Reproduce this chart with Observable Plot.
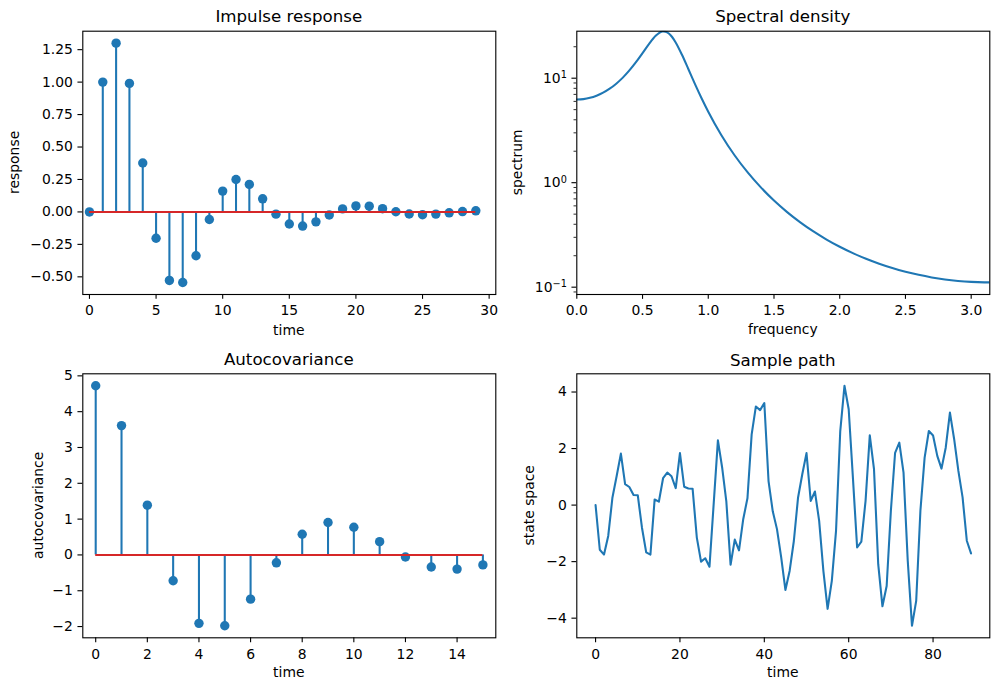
<!DOCTYPE html>
<html><head><meta charset="utf-8">
<script src="https://cdn.jsdelivr.net/npm/d3@7"></script>
<script src="https://cdn.jsdelivr.net/npm/@observablehq/plot@0.6"></script>
<style>
body{margin:0;background:#fff;}
#fig{position:relative;width:998px;height:690px;background:#fff;font-family:"DejaVu Sans",sans-serif;overflow:hidden;}
#fig svg{position:absolute;max-width:none;overflow:visible;}
</style></head><body><div id="fig"></div>
<script>
// ---- data ----
const impulseTime = [0,1,2,3,4,5,6,7,8,9,10,11,12,13,14,15,16,17,18,19,20,21,22,23,24,25,26,27,28,29];
const impulseValues = [0,1,1.3,0.99,0.377,-0.2029,-0.5277,-0.5439,-0.3378,-0.0583,0.1606,0.2496,0.2121,0.1010,-0.0172,-0.0930,-0.1089,-0.0765,-0.0232,0.0234,0.0466,0.0442,0.0249,0.0014,-0.0156,-0.0213,-0.0167,-0.0068,0.0028,0.0085];

const spectralFreq = [0,0.05,0.1,0.15,0.2,0.25,0.3,0.35,0.4,0.45,0.5,0.55,0.6,0.625,0.65,0.66,0.675,0.7,0.725,0.75,0.8,0.85,0.9,0.95,1.0,1.1,1.2,1.3,1.4,1.5,1.6,1.7,1.8,1.9,2.0,2.1,2.2,2.3,2.4,2.5,2.6,2.7,2.8,2.9,3.0,3.1,3.1416];
const spectralValues = [6.25,6.308,6.486,6.798,7.268,7.935,8.859,10.126,11.863,14.229,17.388,21.333,25.435,27.031,27.926,28.027,27.868,26.774,24.791,22.238,16.757,12.122,8.741,6.396,4.779,2.847,1.831,1.2531,0.9012,0.6751,0.5232,0.4174,0.3414,0.2856,0.2436,0.2116,0.1869,0.1676,0.1524,0.1405,0.1312,0.1240,0.1186,0.1148,0.11236,0.11122,0.11111];

const acovTime = [0,1,2,3,4,5,6,7,8,9,10,11,12,13,14,15];
const acovValues = [4.7222,3.6111,1.3889,-0.7222,-1.9111,-1.9789,-1.2348,-0.2200,0.5784,0.9059,0.7728,0.3705,-0.0593,-0.3365,-0.3960,-0.2792];

const pathValues = [0.0,-1.58,-1.75,-1.09,0.27,1.03,1.82,0.74,0.64,0.36,0.35,-0.8,-1.67,-1.75,0.2,0.12,0.95,1.15,1.02,0.6,1.84,0.65,0.59,0.58,-1.15,-2.0,-1.88,-2.18,0.05,2.29,1.33,0.12,-2.11,-1.22,-1.6,-0.5,0.24,2.5,3.49,3.36,3.61,0.85,-0.22,-0.85,-1.85,-3.0,-2.33,-1.27,0.27,1.09,1.84,0.15,0.48,-0.56,-2.33,-3.67,-2.68,-0.91,2.62,4.22,3.39,0.97,-1.5,-1.29,0.15,2.47,1.27,-2.09,-3.58,-2.86,-0.2,1.85,2.21,1.15,-1.97,-4.27,-3.39,-0.2,1.68,2.62,2.46,1.74,1.29,2.03,3.27,2.33,1.21,0.27,-1.26,-1.71];
const pathTime = pathValues.map((_, i) => i);

const impulseTicksX = [0,5,10,15,20,25,30];
const impulseTicksY = [-0.5,-0.25,0,0.25,0.5,0.75,1,1.25];
const spectralTicksX = [0,0.5,1,1.5,2,2.5,3];
const spectralTicksY = [0.1,1,10];
const spectralTickExp = {"0.1":"\u22121","1":"0","10":"1"};
const spectralMinorY = [0.09,0.2,0.3,0.4,0.5,0.6,0.7,0.8,0.9,2,3,4,5,6,7,8,9,20];
const acovTicksX = [0,2,4,6,8,10,12,14];
const acovTicksY = [-2,-1,0,1,2,3,4,5];
const pathTicksX = [0,20,40,60,80];
const pathTicksY = [-4,-2,0,2,4];

// ---- styling ----
const C0 = "#1f77b4", C3 = "#d62728";
const FS = 13.9;
const fig = document.getElementById("fig");

const axX = (ticks, fmt) => Plot.axisX({ticks, tickFormat: fmt, tickSize: 4.86, tickPadding: 6.2, strokeWidth: 1.11, label: null, fontSize: FS});
const axY = (ticks, fmt) => Plot.axisY({ticks, tickFormat: fmt, tickSize: 4.86, tickPadding: 5.1, strokeWidth: 1.11, label: null, fontSize: FS});
const frame = () => Plot.frame({stroke: "black", strokeWidth: 1.11});

function stems(times, values) {
  const rows = times.map((t, i) => ({t, v: values[i]}));
  const base = [{y: 0, a: d3.min(times), b: d3.max(times)}];
  return [
    Plot.ruleX(rows, {x: "t", y1: () => 0, y2: "v", stroke: C0, strokeWidth: 2.08}),
    Plot.dot(rows, {x: "t", y: "v", r: 4.7, fill: C0}),
    Plot.ruleY(base, {y: "y", x1: "a", x2: "b", stroke: C3, strokeWidth: 2.08})
  ];
}

function panel(cfg) {
  const {left, top, width, height, fx0, fy0, fx1, fy1} = cfg;
  const svg = Plot.plot({
    width, height,
    marginLeft: fx0 - left, marginRight: left + width - fx1,
    marginTop: fy0 - top, marginBottom: top + height - fy1,
    x: cfg.x, y: cfg.y,
    style: {fontFamily: '"DejaVu Sans", sans-serif', fontSize: FS + "px", color: "black", background: "white", overflow: "visible"},
    marks: cfg.marks
  });
  const s = d3.select(svg);
  // render "10^k" tick labels with a real superscript
  s.selectAll("text").each(function() {
    const t = this.textContent;
    if (t.startsWith("10^")) {
      const e = t.slice(3);
      const sel = d3.select(this);
      sel.text("10");
      sel.append("tspan").attr("dy", "-0.45em").attr("font-size", "0.7em").text(e);
    }
  });
  const cx = (fx0 + fx1) / 2 - left, cy = (fy0 + fy1) / 2 - top;
  s.append("text").attr("x", cx).attr("y", cfg.titleY - top).attr("text-anchor", "middle")
    .attr("font-size", "16.67px").attr("fill", "black").text(cfg.title);
  s.append("text").attr("x", cx).attr("y", cfg.xlabelY - top).attr("text-anchor", "middle")
    .attr("font-size", FS + "px").attr("fill", "black").text(cfg.xlabel);
  s.append("text").attr("transform", `translate(${cfg.ylabelX - left},${cy}) rotate(-90)`)
    .attr("text-anchor", "middle").attr("font-size", FS + "px").attr("fill", "black").text(cfg.ylabel);
  svg.style.left = left + "px";
  svg.style.top = top + "px";
  fig.appendChild(svg);
}

// Impulse response
panel({
  left: 0, top: 0, width: 500, height: 345, fx0: 82.3, fy0: 30.7, fx1: 495.3, fy1: 294,
  x: {domain: [-0.5, 30.5]}, y: {domain: [-0.6361, 1.3922]},
  marks: [...stems(impulseTime, impulseValues), axX(impulseTicksX, d3.format("d")), axY(impulseTicksY, d3.format(".2f")), frame()],
  title: "Impulse response", titleY: 22.4, xlabel: "time", xlabelY: 335, ylabel: "response", ylabelX: 19
});

// Spectral density
const spectralRows = spectralFreq.map((f, i) => ({f, s: spectralValues[i]}));
panel({
  left: 500, top: 0, width: 498, height: 345, fx0: 576.3, fy0: 30.7, fx1: 989.3, fy1: 294,
  x: {domain: [0, Math.PI]}, y: {type: "log", domain: [0.0851, 28.17]},
  marks: [
    Plot.line(spectralRows, {x: "f", y: "s", stroke: C0, strokeWidth: 2.08, curve: "monotone-x", clip: true}),
    axX(spectralTicksX, d3.format(".1f")),
    axY(spectralTicksY, d => "10^" + spectralTickExp[String(d)]),
    Plot.axisY({ticks: spectralMinorY, tickFormat: () => "", tickSize: 2.78, strokeWidth: 0.83, label: null}),
    frame()
  ],
  title: "Spectral density", titleY: 22.4, xlabel: "frequency", xlabelY: 334, ylabel: "spectrum", ylabelX: 522
});

// Autocovariance
panel({
  left: 0, top: 345, width: 500, height: 345, fx0: 82.3, fy0: 373.3, fx1: 495.3, fy1: 637.3,
  x: {domain: [-0.5, 15.5]}, y: {domain: [-2.314, 5.0573]},
  marks: [...stems(acovTime, acovValues), axX(acovTicksX, d3.format("d")), axY(acovTicksY, d3.format("d")), frame()],
  title: "Autocovariance", titleY: 365, xlabelY: 676.7, xlabel: "time", ylabel: "autocovariance", ylabelX: 43
});

// Sample path
const pathRows = pathTime.map((t, i) => ({t, v: pathValues[i]}));
panel({
  left: 500, top: 345, width: 498, height: 345, fx0: 576.3, fy0: 373.3, fx1: 989.3, fy1: 637.3,
  x: {domain: [-4.45, 93.45]}, y: {domain: [-4.6945, 4.6445]},
  marks: [
    Plot.line(pathRows, {x: "t", y: "v", stroke: C0, strokeWidth: 2.08}),
    axX(pathTicksX, d3.format("d")), axY(pathTicksY, d3.format("d")), frame()
  ],
  title: "Sample path", titleY: 365.5, xlabel: "time", xlabelY: 676.7, ylabel: "state space", ylabelX: 534
});
</script></body></html>
